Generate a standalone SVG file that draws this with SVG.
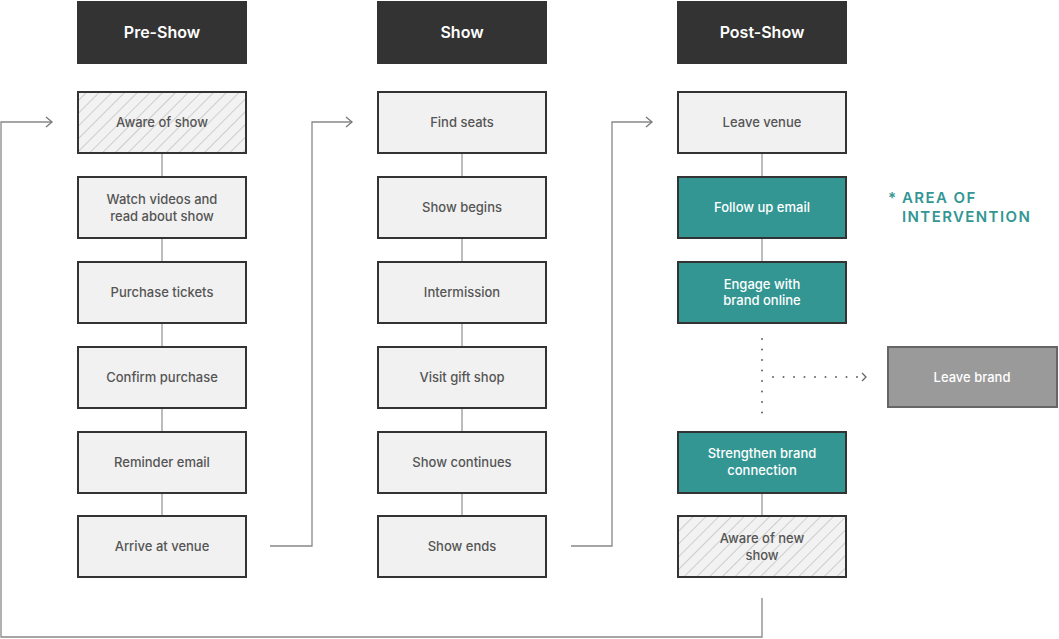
<svg xmlns="http://www.w3.org/2000/svg" width="1059" height="639" viewBox="0 0 1059 639">
<defs>
<pattern id="hatch" patternUnits="userSpaceOnUse" width="9" height="9" patternTransform="rotate(45)">
<rect width="9" height="9" fill="#f2f2f2"/>
<line x1="0" y1="0" x2="0" y2="9" stroke="#c4c4c4" stroke-width="1.6"/>
</pattern>
<marker id="arr" markerWidth="10" markerHeight="12" refX="8" refY="6" orient="auto" markerUnits="userSpaceOnUse">
<path d="M2,1 L8,6 L2,11" fill="none" stroke="#777" stroke-width="1.3"/>
</marker>
</defs>
<style>
.hdr rect{fill:#333333}
.hdr text{fill:#ffffff;font-family:Inter,"Liberation Sans",sans-serif;font-size:16px;font-weight:600;text-anchor:middle}
.box rect{fill:#f1f1f1;stroke:#333333;stroke-width:2}
.box text{fill:#555555;font-family:Inter,"Liberation Sans",sans-serif;font-size:13px;font-weight:500;text-anchor:middle}
.hat rect{fill:url(#hatch)}
.teal rect{fill:#339693}
.teal text{fill:#ffffff}
.grey rect{fill:#9a9a9a;stroke:#666666}
.grey text{fill:#ffffff}
.ln{fill:none;stroke:#999;stroke-width:1.3}
.lnd{fill:none;stroke:#888;stroke-width:1.3}
.dot{fill:none;stroke:#666;stroke-width:2;stroke-linecap:round;stroke-dasharray:0 10.5}
.note{fill:#339693;font-family:Inter,"Liberation Sans",sans-serif;font-size:15px;letter-spacing:1.4px;font-weight:600}
</style>
<g id="connectors">
<line class="ln" x1="162" y1="153" x2="162" y2="176"/>
<line class="ln" x1="162" y1="238" x2="162" y2="261"/>
<line class="ln" x1="162" y1="323" x2="162" y2="346"/>
<line class="ln" x1="162" y1="408" x2="162" y2="431"/>
<line class="ln" x1="162" y1="493" x2="162" y2="515"/>
<line class="ln" x1="462" y1="153" x2="462" y2="176"/>
<line class="ln" x1="462" y1="238" x2="462" y2="261"/>
<line class="ln" x1="462" y1="323" x2="462" y2="346"/>
<line class="ln" x1="462" y1="408" x2="462" y2="431"/>
<line class="ln" x1="462" y1="493" x2="462" y2="515"/>
<line class="ln" x1="762" y1="153" x2="762" y2="176"/>
<line class="ln" x1="762" y1="238" x2="762" y2="261"/>
<line class="ln" x1="762" y1="493" x2="762" y2="515"/>
<path class="lnd" d="M270,546 H312 V122 H352" marker-end="url(#arr)"/>
<path class="lnd" d="M571,546 H612 V122 H652" marker-end="url(#arr)"/>
<path class="lnd" d="M762,598 V637 H1 V122 H52" marker-end="url(#arr)"/>
<line class="dot" x1="762" y1="339" x2="762" y2="414"/>
<line class="dot" x1="773" y1="377" x2="860" y2="377"/>
<path d="M862,373 L866,377 L862,381" fill="none" stroke="#666" stroke-width="1.3"/>
</g>
<g id="hdr-pre" class="hdr"><rect x="77" y="1" width="170" height="63"/><text x="162" y="38">Pre-Show</text></g>
<g id="hdr-show" class="hdr"><rect x="377" y="1" width="170" height="63"/><text x="462" y="38">Show</text></g>
<g id="hdr-post" class="hdr"><rect x="677" y="1" width="170" height="63"/><text x="762" y="38">Post-Show</text></g>

<g id="aware" class="box hat"><rect x="78" y="92" width="168" height="61"/><text x="162" y="127">Aware of show</text></g>
<g id="watch" class="box"><rect x="78" y="177" width="168" height="61"/><text x="162" y="204">Watch videos and</text><text x="162" y="221">read about show</text></g>
<g id="purchase" class="box"><rect x="78" y="262" width="168" height="61"/><text x="162" y="297">Purchase tickets</text></g>
<g id="confirm" class="box"><rect x="78" y="347" width="168" height="61"/><text x="162" y="382">Confirm purchase</text></g>
<g id="reminder" class="box"><rect x="78" y="432" width="168" height="61"/><text x="162" y="467">Reminder email</text></g>
<g id="arrive" class="box"><rect x="78" y="516" width="168" height="61"/><text x="162" y="551">Arrive at venue</text></g>

<g id="seats" class="box"><rect x="378" y="92" width="168" height="61"/><text x="462" y="127">Find seats</text></g>
<g id="begins" class="box"><rect x="378" y="177" width="168" height="61"/><text x="462" y="212">Show begins</text></g>
<g id="intermission" class="box"><rect x="378" y="262" width="168" height="61"/><text x="462" y="297">Intermission</text></g>
<g id="gift" class="box"><rect x="378" y="347" width="168" height="61"/><text x="462" y="382">Visit gift shop</text></g>
<g id="continues" class="box"><rect x="378" y="432" width="168" height="61"/><text x="462" y="467">Show continues</text></g>
<g id="ends" class="box"><rect x="378" y="516" width="168" height="61"/><text x="462" y="551">Show ends</text></g>

<g id="leave" class="box"><rect x="678" y="92" width="168" height="61"/><text x="762" y="127">Leave venue</text></g>
<g id="followup" class="box teal"><rect x="678" y="177" width="168" height="61"/><text x="762" y="212">Follow up email</text></g>
<g id="engage" class="box teal"><rect x="678" y="262" width="168" height="61"/><text x="762" y="289">Engage with</text><text x="762" y="305">brand online</text></g>
<g id="strengthen" class="box teal"><rect x="678" y="432" width="168" height="61"/><text x="762" y="458">Strengthen brand</text><text x="762" y="475">connection</text></g>
<g id="awarenew" class="box hat"><rect x="678" y="516" width="168" height="61"/><text x="762" y="543">Aware of new</text><text x="762" y="560">show</text></g>
<g id="leavebrand" class="box grey"><rect x="888" y="347" width="169" height="60"/><text x="972" y="382">Leave brand</text></g>

<g id="note"><text class="note" x="888" y="203">*</text><text class="note" x="902" y="203">AREA OF</text><text class="note" x="902" y="222">INTERVENTION</text></g>
</svg>
